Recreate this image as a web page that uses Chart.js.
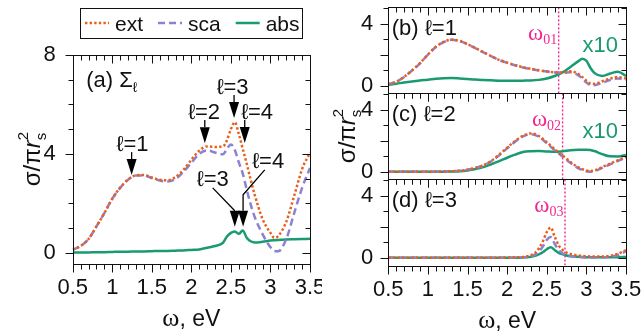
<!DOCTYPE html>
<html>
<head>
<meta charset="utf-8">
<script src="https://cdn.jsdelivr.net/npm/chart.js@4.4.1/dist/chart.umd.min.js"></script>
<style>
  html, body { margin: 0; padding: 0; background: #fff; }
  #fig { position: relative; width: 642px; height: 335px; overflow: hidden; }
  #fig canvas { position: absolute; top: 0; }
</style>
</head>
<body>
<div id="fig">
  <canvas id="panelA" width="322" height="335" style="left:0"></canvas>
  <canvas id="panelR" width="320" height="335" style="left:322px"></canvas>
</div>
<script>
// ---- data (omega in eV, sigma / pi r_s^2) ----
const omegaA = [0.5, 0.6, 0.7, 0.8, 0.9, 1.0, 1.1, 1.2, 1.3, 1.4, 1.5, 1.6, 1.7, 1.8, 1.9, 2.0, 2.1, 2.2, 2.3, 2.4,
                2.45, 2.5, 2.55, 2.6, 2.65, 2.7, 2.75, 2.8, 2.9, 3.0, 3.05, 3.1, 3.2, 3.3, 3.4, 3.5];
const extA = [0.12, 0.27, 0.55, 1.06, 1.60, 2.18, 2.63, 2.96, 3.13, 3.14, 3.04, 2.95, 2.93, 3.06, 3.35, 3.76, 4.13, 4.30, 4.28, 4.30,
              4.55, 5.00, 5.28, 4.80, 4.20, 3.60, 2.95, 2.35, 1.36, 0.80, 0.60, 0.68, 1.25, 2.30, 3.38, 4.05];
const scaA = [0.12, 0.27, 0.55, 1.06, 1.60, 2.18, 2.62, 2.95, 3.12, 3.12, 3.02, 2.92, 2.88, 2.98, 3.27, 3.64, 4.00, 4.14, 4.05, 3.98,
              4.20, 4.38, 4.15, 3.65, 3.20, 2.55, 1.95, 1.45, 0.75, 0.22, 0.07, 0.06, 0.55, 1.60, 2.62, 3.43];
const absA = [0.00, 0.01, 0.01, 0.02, 0.02, 0.03, 0.04, 0.04, 0.05, 0.05, 0.06, 0.07, 0.07, 0.08, 0.09, 0.11, 0.13, 0.20, 0.27, 0.40,
              0.65, 0.80, 0.86, 0.76, 0.90, 0.60, 0.46, 0.41, 0.44, 0.49, 0.50, 0.51, 0.53, 0.54, 0.55, 0.56];

const omegaB = [0.5, 0.6, 0.7, 0.8, 0.9, 1.0, 1.1, 1.2, 1.3, 1.4, 1.5, 1.6, 1.7, 1.8, 1.9, 2.0, 2.1, 2.2, 2.3, 2.4,
                2.5, 2.6, 2.7, 2.8, 2.9, 2.95, 3.0, 3.05, 3.1, 3.2, 3.3, 3.4, 3.5];
const extB = [0.08, 0.25, 0.57, 0.98, 1.45, 2.00, 2.50, 2.82, 2.96, 2.88, 2.68, 2.42, 2.16, 1.90, 1.66, 1.48, 1.32, 1.18, 1.08, 0.99,
              0.92, 0.86, 0.84, 0.92, 0.75, 0.55, 0.32, 0.14, 0.12, 0.28, 0.45, 0.55, 0.45];
const scaB = [0.08, 0.25, 0.56, 0.97, 1.44, 1.99, 2.49, 2.81, 2.95, 2.87, 2.67, 2.41, 2.15, 1.89, 1.65, 1.47, 1.31, 1.17, 1.07, 0.98,
              0.91, 0.85, 0.82, 0.86, 0.66, 0.44, 0.20, 0.04, 0.03, 0.18, 0.36, 0.46, 0.38];
const absB = [0.05, 0.12, 0.20, 0.27, 0.33, 0.38, 0.44, 0.48, 0.49, 0.46, 0.42, 0.39, 0.36, 0.34, 0.32, 0.31, 0.31, 0.32, 0.33, 0.37,
              0.46, 0.62, 0.85, 1.20, 1.58, 1.74, 1.60, 1.15, 0.82, 0.62, 0.78, 0.90, 0.62];

const omegaC = [0.5, 0.8, 1.0, 1.2, 1.3, 1.4, 1.5, 1.6, 1.7, 1.8, 1.9, 2.0, 2.1, 2.2, 2.3, 2.4, 2.5, 2.6, 2.7, 2.8,
                2.9, 3.0, 3.05, 3.1, 3.2, 3.3, 3.4, 3.5];
const extC = [0, 0, 0, 0.01, 0.03, 0.06, 0.13, 0.25, 0.42, 0.70, 1.10, 1.55, 1.98, 2.32, 2.47, 2.30, 1.90, 1.45, 1.05, 0.62,
              0.28, 0.08, 0.05, 0.08, 0.30, 0.52, 0.75, 0.95];
const scaC = [0, 0, 0, 0.01, 0.03, 0.06, 0.12, 0.24, 0.40, 0.67, 1.06, 1.50, 1.93, 2.27, 2.42, 2.25, 1.84, 1.38, 0.98, 0.56,
              0.22, 0.03, 0.00, 0.03, 0.24, 0.47, 0.70, 0.92];
const absC = [0, 0, 0, 0, 0.01, 0.03, 0.08, 0.17, 0.30, 0.48, 0.68, 0.90, 1.10, 1.27, 1.32, 1.33, 1.30, 1.28, 1.32, 1.38,
              1.41, 1.42, 1.40, 1.33, 1.13, 0.99, 0.98, 1.08];

const omegaD = [0.5, 1.0, 1.5, 2.0, 2.1, 2.2, 2.3, 2.35, 2.4, 2.45, 2.5, 2.55, 2.6, 2.65, 2.7, 2.75, 2.8, 2.9, 3.0, 3.1,
                3.2, 3.3, 3.4, 3.5];
const extD = [0, 0, 0, 0.01, 0.02, 0.05, 0.16, 0.30, 0.60, 1.05, 1.65, 1.95, 1.35, 0.80, 0.50, 0.33, 0.24, 0.15, 0.10, 0.08,
              0.08, 0.13, 0.25, 0.50];
const scaD = [0, 0, 0, 0, 0.01, 0.03, 0.10, 0.20, 0.40, 0.72, 1.15, 1.33, 0.90, 0.50, 0.28, 0.16, 0.10, 0.05, 0.02, 0.01,
              0.02, 0.07, 0.18, 0.42];
const absD = [0, 0, 0, 0, 0, 0.02, 0.07, 0.12, 0.22, 0.35, 0.55, 0.68, 0.50, 0.32, 0.22, 0.15, 0.10, 0.06, 0.04, 0.03,
              0.03, 0.04, 0.04, 0.05];

const omega0 = [2.65, 2.70, 2.73];          // dotted resonance markers in (b), (c), (d)
const omega0Subs = ['01', '02', '03'];
const panelNames = ['(b) ℓ=1', '(c) ℓ=2', '(d) ℓ=3'];
const absGain = ['x10', 'x10', ''];

const xTickLabels = [0.5, 1, 1.5, 2, 2.5, 3, 3.5];
const yTickLabelsA = [0, 4, 8];
const yTickLabelsR = [0, 2, 4];
const yRangeA = [-0.46, 8];
const yRangeR = [-0.5, 5.05];

// arrows in (a): omega of arrow, shaft top / tip values, label centre omega
const peakMarks = [
  { text: 'ℓ=1', w: 1.245, top: 4.07, tip: 3.14, lw: 1.255 },
  { text: 'ℓ=2', w: 2.17,  top: 5.37, tip: 4.43, lw: 2.16 },
  { text: 'ℓ=3', w: 2.54,  top: 6.38, tip: 5.45, lw: 2.52 },
  { text: 'ℓ=4', w: 2.675, top: 5.37, tip: 4.44, lw: 2.83 }
];
const absMarks = [
  { text: 'ℓ=3', lw: 2.27, lv: 2.70, path: [[2.27, 2.62], [2.549, 1.05]] },
  { text: 'ℓ=4', lw: 2.97, lv: 3.43, path: [[2.928, 3.35], [2.654, 2.34], [2.654, 1.05]] }
];

// ---- styles ----
const SANS = "'Liberation Sans', Arial, sans-serif";
const SERIF = "'Liberation Serif', 'Times New Roman', serif";
const INK = '#111';
const C_EXT = '#e8601c', C_SCA = '#8b82d2', C_ABS = '#1a9a72', C_W0 = '#f2288e';
const f = (size, fam = SANS, style = '') => (style + ' ' + size + 'px ' + fam).trim();

function pts(xs, ys) { return xs.map((x, i) => ({ x, y: ys[i] })); }

function series(label, xs, ys, yAxisID) {
  const base = { label, data: pts(xs, ys), yAxisID, pointRadius: 0, borderWidth: 2.5,
                 cubicInterpolationMode: 'monotone', fill: false };
  if (label === 'ext') return Object.assign(base, { borderColor: C_EXT, borderDash: [2.4, 2.2] });
  if (label === 'sca') return Object.assign(base, { borderColor: C_SCA, borderDash: [7, 4] });
  return Object.assign(base, { borderColor: C_ABS });
}

function line(ctx, x1, y1, x2, y2) { ctx.beginPath(); ctx.moveTo(x1, y1); ctx.lineTo(x2, y2); ctx.stroke(); }

function drawRich(ctx, parts, x, y, align) {
  let total = 0;
  parts.forEach(p => { ctx.font = p.font; p.w = ctx.measureText(p.t).width; if (!p.hold) total += p.w; });
  let cx = align === 'center' ? x - total / 2 : align === 'right' ? x - total : x;
  ctx.textAlign = 'left'; ctx.textBaseline = 'alphabetic';
  parts.forEach(p => {
    ctx.font = p.font; ctx.fillStyle = p.color || INK;
    ctx.fillText(p.t, cx, y + (p.dy || 0));
    if (!p.hold) cx += p.w;
  });
}

// polyline ending in a filled downward arrow head at the last point
function drawArrow(ctx, points) {
  const tip = points[points.length - 1];
  const head = 16, half = 5;
  ctx.beginPath();
  ctx.moveTo(points[0][0], points[0][1]);
  for (let i = 1; i < points.length - 1; i++) ctx.lineTo(points[i][0], points[i][1]);
  ctx.lineTo(tip[0], tip[1] - head);
  ctx.stroke();
  ctx.beginPath();
  ctx.moveTo(tip[0] - half, tip[1] - head);
  ctx.lineTo(tip[0] + half, tip[1] - head);
  ctx.lineTo(tip[0], tip[1]);
  ctx.closePath();
  ctx.fill();
}

function axisTitles(chart) {
  const ctx = chart.ctx, ca = chart.chartArea;
  drawRich(ctx, [{ t: 'ω', font: f(26, SERIF) }, { t: ', eV', font: f(23) }],
           (ca.left + ca.right) / 2, ca.bottom + 62, 'center');
  ctx.save();
  ctx.translate(ca.left - 33, (ca.top + ca.bottom) / 2);
  ctx.rotate(-Math.PI / 2);
  drawRich(ctx, [{ t: 'σ/π', font: f(24) }, { t: 'r', font: f(24, SANS, 'italic') },
                 { t: '2', font: f(15), dy: -12, hold: true }, { t: 's', font: f(15), dy: 6 }], 0, 0, 'center');
  ctx.restore();
}

// frame boxes + mirrored ticks (all ticks point left / down as in the figure)
function framePlugin(panels) {
  return {
    id: 'frames',
    afterDraw(chart) {
      const ctx = chart.ctx, xs = chart.scales.x;
      const L = Math.round(xs.left) + 0.5, R = Math.round(xs.right) + 0.5;
      ctx.save();
      ctx.strokeStyle = INK; ctx.lineWidth = 1; ctx.setLineDash([]);
      panels.forEach(p => {
        const ys = chart.scales[p.id];
        const T = Math.round(ys.top) + 0.5, B = Math.round(ys.bottom) + 0.5;
        ctx.strokeRect(L, T, R - L, B - T);
        for (let i = 5; i <= 35; i++) {
          const px = Math.round(xs.getPixelForValue(i / 10)) + 0.5;
          const len = i % 5 === 0 ? 8 : 5;
          line(ctx, px, T, px, T + len);
          line(ctx, px, B, px, B + len);
        }
        for (let v = Math.ceil(ys.min); v <= ys.max; v++) {
          const py = Math.round(ys.getPixelForValue(v)) + 0.5;
          const len = p.major.indexOf(v) >= 0 ? 8 : 5;
          line(ctx, L - len, py, L, py);
          line(ctx, R - len, py, R, py);
        }
      });
      ctx.restore();
      axisTitles(chart);
    }
  };
}

const tickFont = { family: SANS, size: 22 };

function noPad(s) { s.paddingTop = 0; s.paddingBottom = 0; s.paddingLeft = 0; s.paddingRight = 0; }

function xScale(height) {
  return {
    type: 'linear', position: 'bottom', min: 0.5, max: 3.5,
    grid: { display: false, drawTicks: false }, border: { display: false },
    ticks: { font: tickFont, color: INK, padding: 11, maxRotation: 0, autoSkip: false,
             callback: v => String(v) },
    afterBuildTicks: s => { s.ticks = xTickLabels.map(v => ({ value: v })); },
    afterFit: s => { s.height = height; noPad(s); }
  };
}

function yScale(range, labels, width, padding, extra) {
  return Object.assign({
    type: 'linear', position: 'left', min: range[0], max: range[1],
    grid: { display: false, drawTicks: false }, border: { display: false },
    ticks: { font: tickFont, color: INK, padding, callback: v => String(v) },
    afterBuildTicks: s => { s.ticks = labels.map(v => ({ value: v })); },
    afterFit: s => { s.width = width; noPad(s); }
  }, extra || {});
}

const baseOptions = {
  responsive: false, animation: false, devicePixelRatio: 1,
  events: [],
  plugins: { legend: { display: false }, tooltip: { enabled: false } }
};

// ---- panel (a) ----
const annotA = {
  id: 'annotA',
  afterDatasetsDraw(chart) {
    const { ctx, chartArea: ca } = chart;
    const x = chart.scales.x, y = chart.scales.y;
    ctx.save();
    // legend box
    ctx.strokeStyle = INK; ctx.lineWidth = 1;
    ctx.strokeRect(80.5, 8.5, 222, 30);
    let lx = 85;
    chart.data.datasets.forEach(ds => {
      ctx.save();
      ctx.strokeStyle = ds.borderColor; ctx.lineWidth = ds.borderWidth;
      ctx.setLineDash(ds.borderDash || []);
      line(ctx, lx, 23, lx + 24, 23);
      ctx.restore();
      ctx.font = f(21); ctx.fillStyle = INK; ctx.textAlign = 'left'; ctx.textBaseline = 'alphabetic';
      ctx.fillText(ds.label, lx + 30, 31);
      lx += 30 + ctx.measureText(ds.label).width + 15;
    });
    // panel label
    drawRich(ctx, [{ t: '(a) Σ', font: f(22) }, { t: 'ℓ', font: f(14), dy: 5 }], ca.left + 13.5, ca.top + 32, 'left');
    // arrows
    ctx.fillStyle = '#000'; ctx.strokeStyle = '#000'; ctx.lineWidth = 1.3;
    peakMarks.forEach(m => {
      const px = x.getPixelForValue(m.w), top = y.getPixelForValue(m.top);
      ctx.fillStyle = '#000';
      drawArrow(ctx, [[px, top], [px, y.getPixelForValue(m.tip)]]);
      drawRich(ctx, [{ t: m.text, font: f(22) }], x.getPixelForValue(m.lw), top - 1, 'center');
    });
    absMarks.forEach(m => {
      ctx.fillStyle = '#000';
      drawArrow(ctx, m.path.map(p => [x.getPixelForValue(p[0]), y.getPixelForValue(p[1])]));
      drawRich(ctx, [{ t: m.text, font: f(22) }], x.getPixelForValue(m.lw), y.getPixelForValue(m.lv), 'center');
    });
    ctx.restore();
  }
};

new Chart(document.getElementById('panelA'), {
  type: 'line',
  data: { datasets: [series('ext', omegaA, extA, 'y'), series('sca', omegaA, scaA, 'y'), series('abs', omegaA, absA, 'y')] },
  options: Object.assign({}, baseOptions, {
    layout: { padding: { top: 55, right: 12, left: 0, bottom: 0 } },
    scales: { x: xScale(71), y: yScale(yRangeA, yTickLabelsA, 72.7, 17) }
  }),
  plugins: [framePlugin([{ id: 'y', major: yTickLabelsA }]), annotA]
});

// ---- panels (b), (c), (d): stacked y axes sharing one x axis ----
const panelIds = ['yb', 'yc', 'yd'];
const panelData = [[omegaB, extB, scaB, absB], [omegaC, extC, scaC, absC], [omegaD, extD, scaD, absD]];

const rightSets = [];
panelIds.forEach((id, i) => {
  const [w, e, s, a] = panelData[i];
  rightSets.push(series('ext', w, e, id), series('sca', w, s, id), series('abs', w, a, id));
});
panelIds.forEach((id, i) => {
  rightSets.push({ label: 'ω0', yAxisID: id, data: pts([omega0[i], omega0[i]], yRangeR),
                   borderColor: C_W0, borderWidth: 1.4, borderDash: [2, 2], pointRadius: 0 });
});

const annotR = {
  id: 'annotR',
  afterDatasetsDraw(chart) {
    const { ctx, chartArea: ca } = chart;
    ctx.save();
    panelIds.forEach((id, i) => {
      const top = chart.scales[id].top;
      drawRich(ctx, [{ t: panelNames[i], font: f(22) }], ca.left + 3.4, top + 28, 'left');
      const lx = chart.scales.x.getPixelForValue(omega0[i]);
      drawRich(ctx, [{ t: 'ω', font: f(23, SERIF), color: C_W0 },
                     { t: omega0Subs[i], font: f(14, SERIF), dy: 4, color: C_W0 }], lx - 1.5, top + 33, 'right');
      if (absGain[i]) drawRich(ctx, [{ t: absGain[i], font: f(22), color: C_ABS }], ca.right - 8, top + 45, 'right');
    });
    ctx.restore();
  }
};

const rightScales = { x: xScale(69.5) };
panelIds.forEach((id, i) => {
  rightScales[id] = yScale(yRangeR, yTickLabelsR, 66.3, 15, { stack: 'r', stackWeight: 1, weight: 3 - i });
});

new Chart(document.getElementById('panelR'), {
  type: 'line',
  data: { datasets: rightSets },
  options: Object.assign({}, baseOptions, {
    layout: { padding: { top: 7.3, right: 16, left: 0, bottom: 0 } },
    scales: rightScales
  }),
  plugins: [framePlugin(panelIds.map(id => ({ id, major: yTickLabelsR }))), annotR]
});
</script>
</body>
</html>
